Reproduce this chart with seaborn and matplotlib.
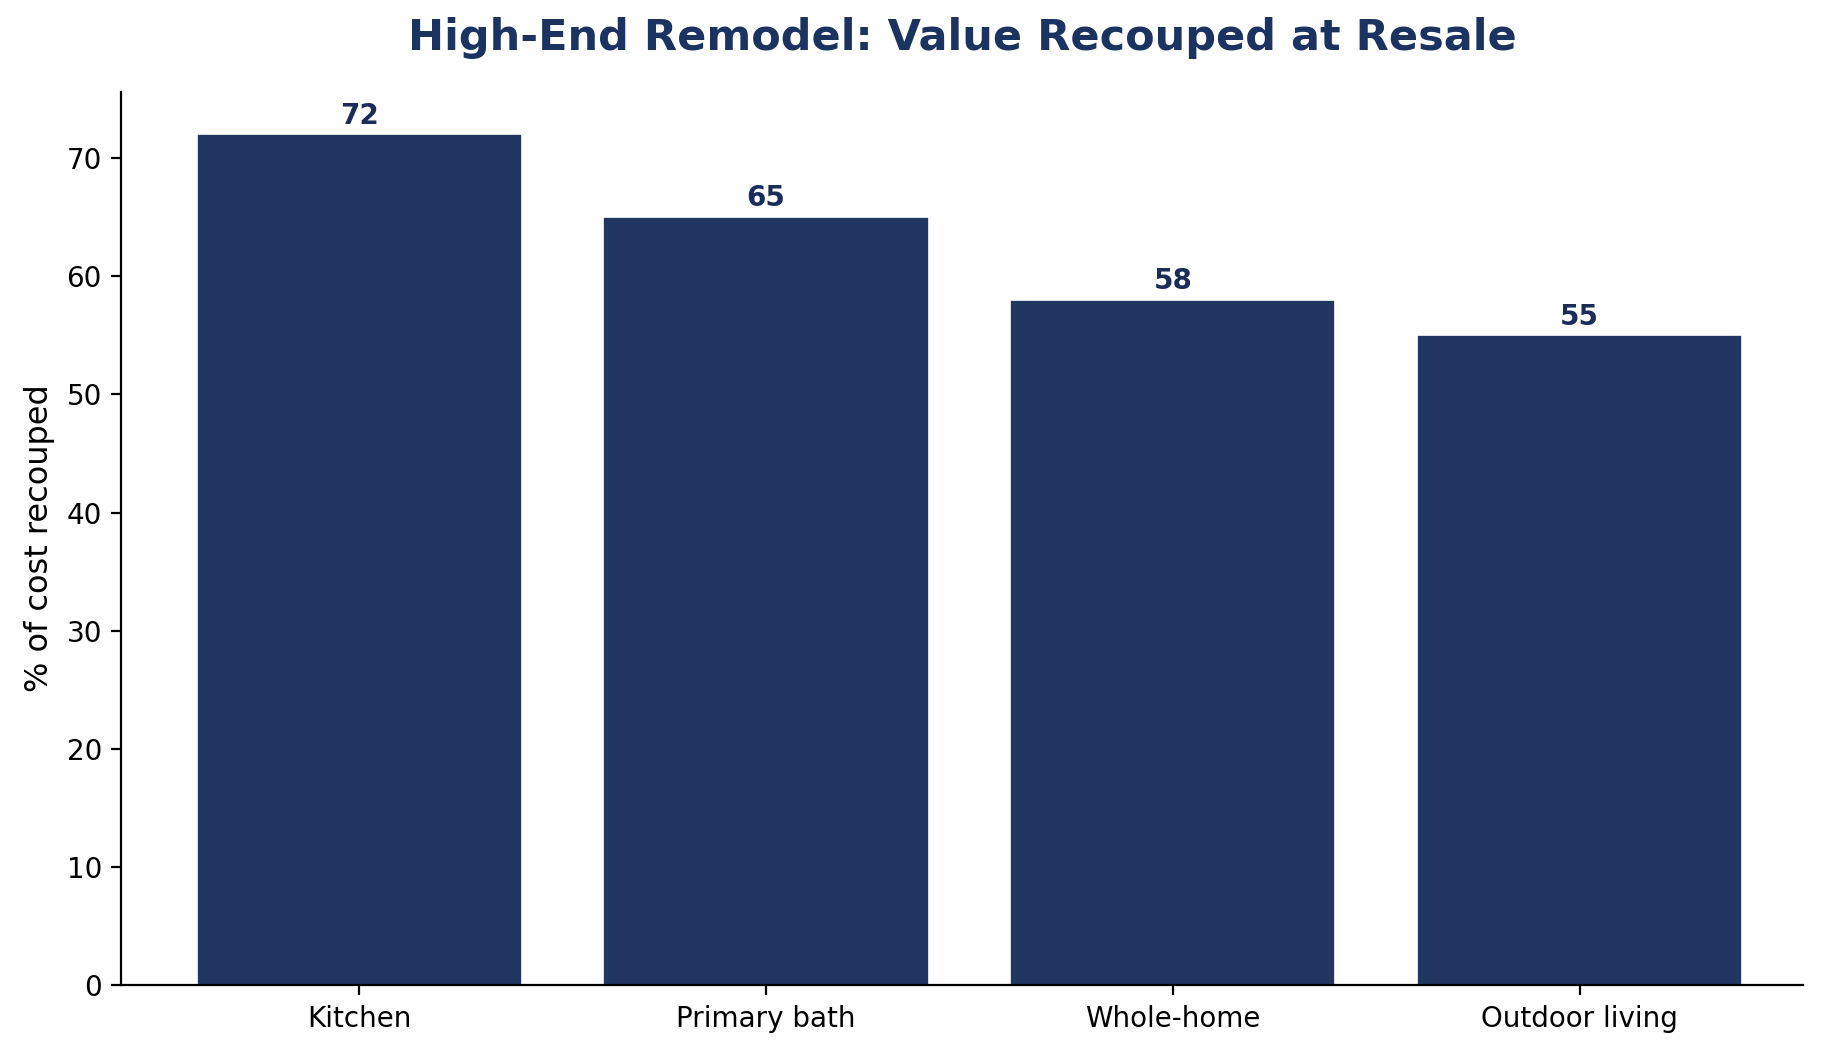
import matplotlib
matplotlib.use("Agg")
import matplotlib.pyplot as plt
import seaborn as sns
import pandas as pd

projects = ["Kitchen", "Primary bath", "Whole-home", "Outdoor living"]
recouped = [72, 65, 58, 55]

df = pd.DataFrame({"project": projects, "recouped": recouped})

sns.set_style("ticks")
plt.rcParams["font.family"] = ["DejaVu Sans"]
plt.rcParams["text.color"] = "black"
plt.rcParams["axes.labelcolor"] = "black"
plt.rcParams["xtick.color"] = "black"
plt.rcParams["ytick.color"] = "black"
plt.rcParams["axes.edgecolor"] = "black"

navy = "#213762"
fig, ax = plt.subplots(figsize=(9.2, 5.27), dpi=200)
sns.barplot(data=df, x="project", y="recouped", color=navy, saturation=1,
            edgecolor="white", linewidth=0.6, width=0.8, ax=ax)

for i, v in enumerate(recouped):
    ax.text(i, v + 0.4, f"{v}", ha="center", va="bottom", fontsize=10,
            fontweight="bold", color="#1a2d5a")

ax.set_title("High-End Remodel: Value Recouped at Resale", fontsize=15.5,
             fontweight="bold", color="#1b3360", pad=15)
ax.set_xlabel("")
ax.set_ylabel("% of cost recouped", fontsize=11.5)
ax.tick_params(axis="both", labelsize=10)
ax.set_xlim(-0.585, 3.55)
ax.set_ylim(0, 75.6)
sns.despine(ax=ax)

fig.subplots_adjust(left=0.066, right=0.98, bottom=0.065, top=0.913)
fig.savefig("out.png", dpi=200)
